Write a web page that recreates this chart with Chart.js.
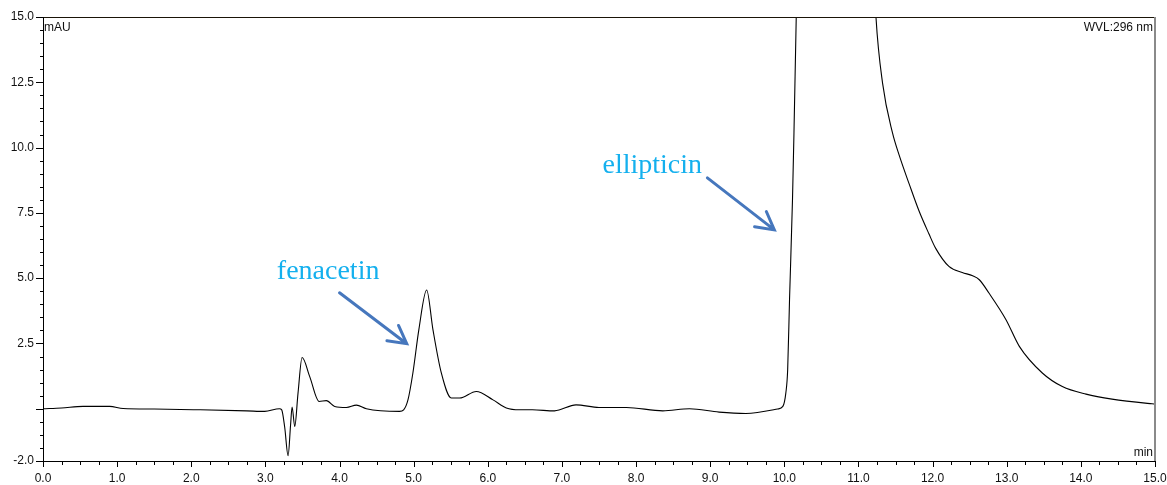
<!DOCTYPE html>
<html>
<head>
<meta charset="utf-8">
<script src="https://cdn.jsdelivr.net/npm/chart.js@4.4.1/dist/chart.umd.min.js"></script>
<style>
  html, body { margin: 0; padding: 0; background: #fff; }
  #wrap { width: 1167px; height: 485px; }
</style>
</head>
<body>
<div id="wrap"><canvas id="chromChart" width="1167" height="485"></canvas></div>
<script>
// retention time (min) and signal (mAU)
const times = [0.00, 0.25, 0.54, 0.90, 1.08, 1.50, 2.12, 2.75, 2.99, 3.19,
  3.22, 3.26, 3.306, 3.34, 3.36, 3.396, 3.44, 3.495, 3.598, 3.724,
  3.823, 3.935, 4.093, 4.228, 4.362, 4.81, 4.865, 4.923, 4.99, 5.07,
  5.175, 5.26, 5.373, 5.508, 5.62, 5.845, 6.07, 6.25, 6.43, 6.60,
  6.90, 7.19, 7.50, 7.87, 8.36, 8.72, 9.12, 9.48, 9.91, 9.98,
  10.02, 10.045, 10.07, 10.11, 10.13, 10.16, 10.20, 10.5, 10.8, 11.1,
  11.235, 11.325, 11.46, 11.55, 11.685, 11.82, 11.95, 12.04, 12.22, 12.40,
  12.54, 12.63, 12.76, 12.99, 13.17, 13.48, 13.75, 14.07, 14.42, 14.96, 15.0];
const signal = [0.00, 0.03, 0.09, 0.09, 0.01, -0.01, -0.04, -0.08, -0.10, 0.00,
  -0.04, -0.70, -1.80, -0.60, 0.07, -0.68, 0.60, 1.96, 1.23, 0.28,
  0.31, 0.09, 0.05, 0.14, 0.00, -0.10, -0.04, 0.34, 1.38, 3.03,
  4.55, 3.03, 1.37, 0.41, 0.41, 0.66, 0.34, 0.03, -0.04, -0.04,
  -0.08, 0.15, 0.05, 0.05, -0.08, 0.00, -0.13, -0.18, -0.01, 0.09,
  0.6, 1.49, 4.17, 8.0, 10.57, 14.9, 20, 38, 40, 24,
  15.05, 12.47, 10.55, 9.7, 8.6, 7.55, 6.7, 6.15, 5.45, 5.22,
  5.09, 4.94, 4.43, 3.41, 2.39, 1.37, 0.85, 0.56, 0.37, 0.19, 0.18];

const yLabels = [-2, 2.5, 5, 7.5, 10, 12.5, 15];

// peak labels: text anchor and arrow from/to, in data units
const peakNames = ['fenacetin', 'ellipticin'];
const labelAt = [[3.154, 4.98], [7.547, 9.035]];
const arrowFrom = [[4.0, 4.44], [8.962, 8.84]];
const arrowTo = [[4.906, 2.49], [9.865, 6.85]];

const points = times.map((t, i) => ({ x: t, y: signal[i] }));

const labelFont = '12px "Liberation Sans", Arial, sans-serif';

const frame = {
  id: 'frame',
  afterDraw(chart) {
    const ctx = chart.ctx;
    const a = chart.chartArea;
    const xs = chart.scales.x, ys = chart.scales.y;
    ctx.save();
    ctx.lineWidth = 1;
    // top border
    ctx.strokeStyle = '#1a1408';
    ctx.beginPath();
    ctx.moveTo(a.left, Math.round(a.top) + 0.5);
    ctx.lineTo(a.right, Math.round(a.top) + 0.5);
    ctx.stroke();
    // right border
    ctx.strokeStyle = '#8a8a8a';
    ctx.lineWidth = 2;
    ctx.beginPath();
    ctx.moveTo(Math.round(a.right), a.top);
    ctx.lineTo(Math.round(a.right), a.bottom);
    ctx.stroke();
    // left + bottom axes
    ctx.strokeStyle = '#000';
    ctx.lineWidth = 1;
    ctx.beginPath();
    ctx.moveTo(Math.round(a.left) + 0.5, a.top);
    ctx.lineTo(Math.round(a.left) + 0.5, Math.round(a.bottom) + 0.5);
    ctx.lineTo(a.right, Math.round(a.bottom) + 0.5);
    ctx.stroke();
    // tick marks
    ctx.beginPath();
    ys.ticks.forEach(tk => {
      const py = Math.round(ys.getPixelForValue(tk.value)) + 0.5;
      const major = yLabels.includes(tk.value) || tk.value === 0;
      ctx.moveTo(a.left, py);
      ctx.lineTo(a.left - (major ? 7 : 3), py);
    });
    xs.ticks.forEach(tk => {
      const px = Math.round(xs.getPixelForValue(tk.value)) + 0.5;
      const major = Number.isInteger(tk.value);
      ctx.moveTo(px, a.bottom);
      ctx.lineTo(px, a.bottom + (major ? 6 : 4));
    });
    ctx.stroke();
    // corner texts
    ctx.fillStyle = '#111';
    ctx.font = labelFont;
    ctx.textBaseline = 'top';
    ctx.textAlign = 'left';
    ctx.fillText('mAU', a.left + 1, a.top + 5);
    ctx.textAlign = 'right';
    ctx.fillText('WVL:296 nm', a.right - 2, a.top + 5);
    ctx.textBaseline = 'bottom';
    ctx.fillText('min', a.right - 2, a.bottom - 2);
    // peak annotations
    ctx.font = '28px "Liberation Serif", "Times New Roman", serif';
    ctx.textAlign = 'left';
    ctx.textBaseline = 'alphabetic';
    ctx.fillStyle = '#14b0ee';
    peakNames.forEach((name, i) => {
      ctx.fillText(name, xs.getPixelForValue(labelAt[i][0]), ys.getPixelForValue(labelAt[i][1]));
    });
    ctx.strokeStyle = '#4677bd';
    ctx.lineWidth = 3;
    ctx.lineCap = 'round';
    peakNames.forEach((name, i) => {
      const x0 = xs.getPixelForValue(arrowFrom[i][0]), y0 = ys.getPixelForValue(arrowFrom[i][1]);
      const x1 = xs.getPixelForValue(arrowTo[i][0]), y1 = ys.getPixelForValue(arrowTo[i][1]);
      const ang = Math.atan2(y1 - y0, x1 - x0);
      const head = 20, spread = 0.5;
      ctx.beginPath();
      ctx.moveTo(x0, y0);
      ctx.lineTo(x1, y1);
      ctx.moveTo(x1 - head * Math.cos(ang - spread), y1 - head * Math.sin(ang - spread));
      ctx.lineTo(x1, y1);
      ctx.lineTo(x1 - head * Math.cos(ang + spread), y1 - head * Math.sin(ang + spread));
      ctx.stroke();
    });
    ctx.restore();
  }
};

const ctx = document.getElementById('chromChart').getContext('2d');
const chromChart = new Chart(ctx, {
  type: 'line',
  data: {
    datasets: [{
      label: 'WVL:296 nm',
      data: points,
      borderColor: '#000',
      borderWidth: 1.1,
      pointRadius: 0,
      fill: false,
      cubicInterpolationMode: 'monotone',
      clip: 0
    }]
  },
  options: {
    responsive: false,
    animation: false,
    layout: { padding: { top: 17, right: 12, left: 0, bottom: 0 } },
    plugins: { legend: { display: false }, tooltip: { enabled: false } },
    scales: {
      x: {
        type: 'linear',
        min: 0,
        max: 15,
        grid: { display: false, drawTicks: false },
        border: { display: false },
        afterFit: s => { s.height = 24; s.paddingLeft = 0; s.paddingRight = 0; },
        ticks: {
          stepSize: 0.25,
          maxTicksLimit: 100,
          autoSkip: false,
          maxRotation: 0,
          padding: 10,
          color: '#111',
          font: { family: '"Liberation Sans", Arial, sans-serif', size: 12 },
          callback: v => Number.isInteger(v) ? v.toFixed(1) : ''
        }
      },
      y: {
        min: -2,
        max: 15,
        grid: { display: false, drawTicks: false },
        border: { display: false },
        afterFit: s => { s.width = 43; s.paddingTop = 0; s.paddingBottom = 0; },
        ticks: {
          stepSize: 0.5,
          maxTicksLimit: 100,
          autoSkip: false,
          padding: 9,
          color: '#111',
          font: { family: '"Liberation Sans", Arial, sans-serif', size: 12 },
          callback: v => yLabels.includes(v) ? v.toFixed(1) : ''
        }
      }
    }
  },
  plugins: [frame]
});
</script>
</body>
</html>
